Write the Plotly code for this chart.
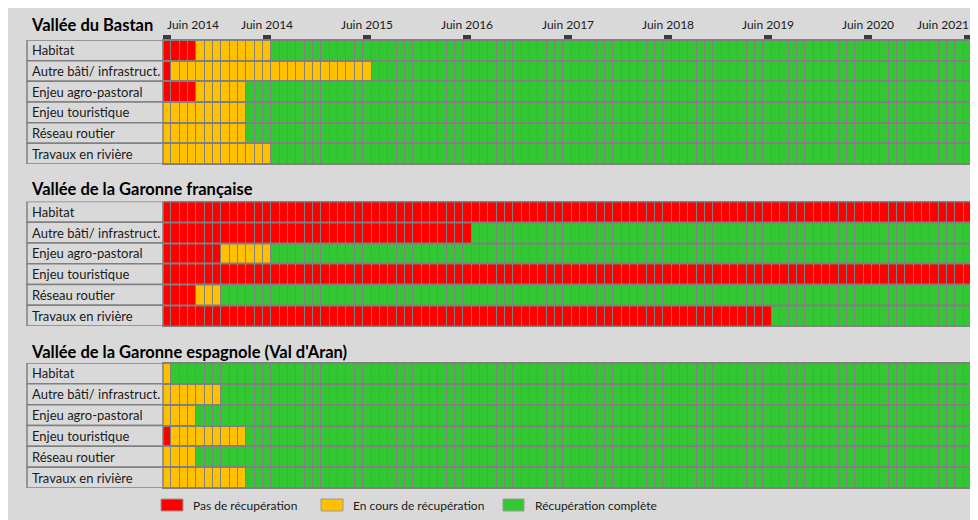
import plotly.graph_objects as go

# ---------------- data ----------------
categories = ["Habitat", "Autre bâti/ infrastruct.", "Enjeu agro-pastoral",
              "Enjeu touristique", "Réseau routier", "Travaux en rivière"]
valleys = ["Vallée du Bastan", "Vallée de la Garonne française",
           "Vallée de la Garonne espagnole (Val d'Aran)"]
n_months = 97  # monthly cells, June 2013 -> June 2021

# months with "Pas de récupération" then "En cours de récupération", per category
bastan_red = [4, 1, 4, 0, 0, 0]
bastan_orange = [9, 24, 6, 10, 10, 13]
garonne_fr_red = [97, 37, 7, 97, 4, 73]
garonne_fr_orange = [0, 0, 6, 0, 3, 0]
aran_red = [0, 0, 0, 1, 0, 0]
aran_orange = [1, 7, 4, 9, 4, 10]

tick_months = [0, 12, 24, 36, 48, 60, 72, 84, 96]
tick_labels = ["Juin 2014", "Juin 2014", "Juin 2015", "Juin 2016", "Juin 2017",
               "Juin 2018", "Juin 2019", "Juin 2020", "Juin 2021"]

status_names = ["Pas de récupération", "En cours de récupération", "Récupération complète"]
status_colors = ["#FF0000", "#FFC000", "#33C733"]

# ---------------- layout constants ----------------
W, H = 978, 520
OFF = 8  # page body margin
BG = "#d9d9d9"
GRID = "#808080"
FONT = "Lato"

def px_x(p):
    return (p - OFF) / W

def px_y(p):
    return 1 - (p - OFF) / H

grid_left, grid_right = 163, 972
label_left = 27
blocks = [(40, 164), (201.5, 326), (363, 488)]
title_y = [25, 189, 352]

def build_z(red, orange):
    z = []
    for r, o in zip(red, orange):
        z.append([0] * r + [1] * o + [2] * (n_months - r - o))
    return z

all_z = [build_z(bastan_red, bastan_orange),
         build_z(garonne_fr_red, garonne_fr_orange),
         build_z(aran_red, aran_orange)]

months = list(range(n_months))
colorscale = [[0, status_colors[0]], [0.5, status_colors[1]], [1, status_colors[2]]]

fig = go.Figure()
shapes = []
annotations = []

for k, (z, (top, bot)) in enumerate(zip(all_z, blocks)):
    suffix = "" if k == 0 else str(k + 1)
    xa, ya = "x" + suffix, "y" + suffix
    fig.add_trace(go.Heatmap(
        z=z, x=months, y=list(range(len(categories))),
        colorscale=colorscale, zmin=0, zmax=2, showscale=False,
        xgap=1, ygap=2, xaxis=xa, yaxis=ya, hoverinfo="skip"))
    xaxis_cfg = dict(domain=[px_x(grid_left), px_x(grid_right)],
                     range=[-0.5, n_months - 0.5], anchor=ya,
                     showgrid=False, zeroline=False,
                     showline=True, linecolor=GRID, linewidth=1, mirror=True,
                     showticklabels=False, fixedrange=True)
    if k == 0:
        xaxis_cfg.update(side="top", ticks="outside", ticklen=4, tickwidth=8,
                         tickcolor="#3c3c3c", tickvals=tick_months)
    else:
        xaxis_cfg.update(ticks="")
    yaxis_cfg = dict(domain=[px_y(bot), px_y(top)],
                     range=[len(categories) - 0.5, -0.5], anchor=xa,
                     showgrid=False, zeroline=False, showticklabels=False,
                     showline=True, linecolor=GRID, linewidth=1, mirror=True,
                     fixedrange=True)
    fig.update_layout(**{"xaxis" + suffix: xaxis_cfg, "yaxis" + suffix: yaxis_cfg})

    # row label boxes
    for i, cat in enumerate(categories):
        shapes.append(dict(type="rect", xref="paper", yref=ya,
                           x0=px_x(label_left), x1=px_x(grid_left),
                           y0=i - 0.5, y1=i + 0.5,
                           fillcolor=BG, line=dict(color=GRID, width=1.5)))
        annotations.append(dict(text=cat, xref="paper", yref=ya,
                                x=px_x(30), y=i, xanchor="left", yanchor="middle",
                                showarrow=False,
                                font=dict(family=FONT, size=13, color="#1a1a1a")))
    # valley title
    annotations.append(dict(text="<b>" + valleys[k] + "</b>", xref="paper", yref="paper",
                            x=px_x(29), y=px_y(title_y[k]), xanchor="left",
                            yanchor="middle", showarrow=False,
                            font=dict(family=FONT, size=16.5, color="#000000")))

# time labels above first block
for j, (m, lab) in enumerate(zip(tick_months, tick_labels)):
    if j == 0:
        anchor = "left"
        xm = m - 0.3
    elif j == len(tick_months) - 1:
        anchor = "right"
        xm = m + 0.4
    else:
        anchor = "center"
        xm = m
    annotations.append(dict(text=lab, xref="x", yref="paper", x=xm, y=px_y(25),
                            xanchor=anchor, yanchor="middle", showarrow=False,
                            font=dict(family=FONT, size=12, color="#1a1a1a")))

# legend
legend_boxes = [(161, 183), (321, 343), (503, 524)]
legend_text_x = [191, 351, 533]
for (x0, x1), tx, name, col in zip(legend_boxes, legend_text_x, status_names, status_colors):
    shapes.append(dict(type="rect", xref="paper", yref="paper",
                       x0=px_x(x0), x1=px_x(x1), y0=px_y(511), y1=px_y(499),
                       fillcolor=col, line=dict(color="#9a9a9a", width=1)))
    annotations.append(dict(text=name, xref="paper", yref="paper",
                            x=px_x(tx), y=px_y(505), xanchor="left", yanchor="middle",
                            showarrow=False,
                            font=dict(family=FONT, size=12, color="#1a1a1a")))

fig.update_layout(width=W, height=H, margin=dict(l=0, r=0, t=0, b=0),
                  paper_bgcolor=BG, plot_bgcolor=GRID,
                  shapes=shapes, annotations=annotations, showlegend=False,
                  font=dict(family=FONT))

fig.write_html("out.html")
